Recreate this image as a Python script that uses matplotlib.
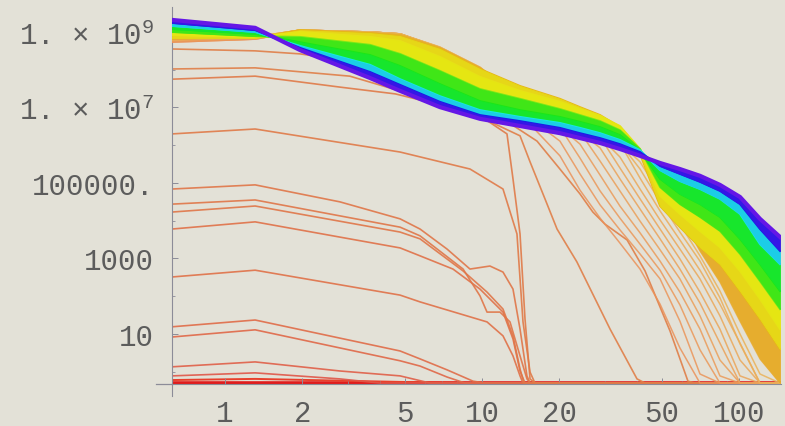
import colorsys
import numpy as np
import matplotlib
matplotlib.use("Agg")
import matplotlib.pyplot as plt
from matplotlib.ticker import FixedLocator, NullFormatter

# ---------------- data (log10 of y values) ----------------
# x positions shared by the rainbow band and the orange fan curves
x_band = [0.622, 1.31, 1.96, 3.67, 4.80, 6.86, 9.82, 14.06, 20.1, 24.06,
          28.8, 34.4, 41.2, 49.3, 58.9, 70.5, 84.3, 100.9, 120.7, 144.4]

# rainbow band curves (log10 y)
logy_violet = [9.32, 9.11, 8.52, 7.78, 7.44, 7.01, 6.70, 6.51, 6.32, 6.19,
               6.06, 5.90, 5.72, 5.53, 5.37, 5.19, 4.95, 4.63, 4.05, 3.57]
logy_blue = [9.24, 9.05, 8.58, 7.94, 7.60, 7.15, 6.80, 6.64, 6.46, 6.32,
             6.19, 6.03, 5.82, 5.45, 5.24, 5.03, 4.79, 4.44, 3.78, 3.20]
logy_cyan = [9.16, 9.00, 8.63, 8.13, 7.75, 7.30, 6.93, 6.75, 6.59, 6.46,
             6.32, 6.14, 5.87, 5.34, 5.05, 4.84, 4.58, 4.18, 3.38, 2.85]
logy_green = [9.08, 8.95, 8.73, 8.39, 8.10, 7.62, 7.17, 6.93, 6.75, 6.62,
              6.48, 6.27, 5.85, 5.11, 4.71, 4.44, 4.10, 3.52, 2.85, 2.14]
logy_yelgreen = [9.00, 8.89, 8.87, 8.66, 8.42, 7.97, 7.49, 7.23, 6.96, 6.80,
                 6.64, 6.40, 5.90, 4.89, 4.44, 4.10, 3.73, 3.12, 2.40, 1.66]
logy_yellow = [8.92, 8.87, 9.00, 8.87, 8.76, 8.34, 7.81, 7.44, 7.15, 6.96,
               6.78, 6.51, 5.90, 4.66, 4.18, 3.73, 3.30, 2.67, 1.93, 1.13]
logy_amber = [8.84, 8.84, 9.05, 8.97, 8.89, 8.55, 8.02, 7.57, 7.23, 7.01,
              6.80, 6.48, 5.77, 4.39, 3.83, 3.30, 2.85, 2.14, 1.40, 0.60]

# orange fan curves (log10 y), from the earliest to the latest to drop
fan_logy = [
    [8.73, 8.81, 9.03, 8.97, 8.92, 8.55, 8.00, 6.83, 5.72, 4.81, 4.07, 3.41, 2.72, 1.79, 0.63, -0.30, -0.30, -0.30, -0.30, -0.30],
    [8.73, 8.81, 9.03, 8.97, 8.92, 8.55, 8.01, 6.91, 6.11, 5.24, 4.42, 3.76, 3.12, 2.46, 1.34, -0.06, -0.30, -0.30, -0.30, -0.30],
    [8.76, 8.81, 9.03, 9.00, 8.92, 8.56, 8.02, 6.96, 6.48, 5.66, 4.79, 4.07, 3.38, 2.69, 1.77, 0.58, -0.30, -0.30, -0.30, -0.30],
    [8.76, 8.84, 9.05, 9.00, 8.95, 8.56, 8.03, 7.01, 6.48, 6.03, 5.21, 4.39, 3.68, 2.93, 2.11, 1.13, -0.11, -0.30, -0.30, -0.30],
    [8.79, 8.84, 9.05, 9.00, 8.95, 8.57, 8.03, 7.07, 6.48, 6.35, 5.58, 4.79, 3.99, 3.23, 2.46, 1.48, 0.31, -0.30, -0.30, -0.30],
    [8.79, 8.84, 9.05, 9.00, 8.95, 8.57, 8.04, 7.12, 6.48, 6.35, 5.93, 5.11, 4.31, 3.52, 2.72, 1.82, 0.76, -0.30, -0.30, -0.30],
    [8.79, 8.84, 9.05, 9.00, 8.95, 8.58, 8.04, 7.17, 6.48, 6.35, 6.22, 5.40, 4.58, 3.78, 2.99, 2.11, 1.13, -0.11, -0.30, -0.30],
    [8.79, 8.84, 9.05, 9.00, 8.95, 8.58, 8.05, 7.20, 6.48, 6.35, 6.22, 5.69, 4.84, 4.02, 3.25, 2.46, 1.48, 0.31, -0.30, -0.30],
    [8.79, 8.87, 9.05, 9.00, 8.95, 8.59, 8.05, 7.23, 6.51, 6.38, 6.22, 6.06, 5.13, 4.26, 3.49, 2.69, 1.79, 0.76, -0.30, -0.30],
    [8.79, 8.87, 9.05, 9.00, 8.95, 8.59, 8.06, 7.23, 6.51, 6.38, 6.22, 6.06, 5.37, 4.50, 3.70, 2.93, 1.96, 0.74, -0.30, -0.30],
    [8.81, 8.87, 9.05, 9.00, 8.95, 8.60, 8.06, 7.23, 6.54, 6.40, 6.25, 6.06, 5.56, 4.71, 3.91, 3.07, 2.14, 1.00, -0.06, -0.30],
    [8.81, 8.87, 9.05, 9.00, 8.95, 8.60, 8.07, 7.25, 6.56, 6.43, 6.27, 6.09, 5.74, 4.92, 4.13, 3.20, 2.38, 1.34, 0.34, -0.30],
]

# single orange curves (x values and log10 y)
a1_x = [0.622, 1.31, 1.96, 3.67, 6.86, 11.75, 16.37, 20.1, 24.06, 27.0, 30.1, 36.7, 43.1, 53.9, 63.3, 67.4, 144.4]
a1_logy = [8.55, 8.50, 8.42, 8.15, 7.49, 6.75, 6.11, 5.37, 4.71, 4.23, 3.91, 3.49, 2.67, 1.08, -0.25, -0.30, -0.30]
a2_x = [0.622, 1.31, 3.06, 5.74, 9.82, 14.06, 15.38, 17.58, 19.59, 23.4, 31.5, 40.1, 43.1, 144.4]
a2_logy = [8.02, 8.05, 7.83, 7.28, 6.75, 6.25, 5.56, 4.58, 3.78, 2.91, 1.13, -0.19, -0.30, -0.30]
a3_x = [0.622, 1.31, 2.80, 4.60, 6.86, 9.82, 12.51, 13.2, 14.06, 14.7, 15.38, 16.07, 144.4]
a3_logy = [7.75, 7.83, 7.54, 7.36, 7.07, 6.78, 6.30, 5.11, 3.65, 1.40, -0.19, -0.30, -0.30]
a4_x = [0.622, 1.31, 4.80, 8.98, 12.07, 13.68, 14.44, 15.38, 16.07, 144.4]
a4_logy = [6.30, 6.43, 5.82, 5.37, 4.84, 3.65, 1.32, -0.01, -0.30, -0.30]

b1_x = [0.622, 1.31, 2.80, 4.80, 5.74, 7.31, 8.98, 10.74, 12.07, 13.2, 14.06, 14.96, 15.38, 144.4]
b1_logy = [4.84, 4.95, 4.50, 4.05, 3.78, 3.25, 2.72, 2.80, 2.64, 2.19, 1.13, -0.11, -0.30, -0.30]
b2_x = [0.622, 1.31, 4.80, 5.74, 8.44, 9.82, 10.46, 11.75, 12.85, 14.06, 14.96, 15.38, 144.4]
b2_logy = [4.44, 4.55, 3.83, 3.60, 2.72, 2.01, 1.58, 1.58, 1.32, 0.42, -0.19, -0.30, -0.30]
b3_x = [0.622, 1.31, 4.80, 5.74, 8.44, 10.46, 12.07, 13.2, 14.06, 14.57, 144.4]
b3_logy = [4.23, 4.39, 3.70, 3.52, 2.67, 2.11, 1.66, 0.95, 0.07, -0.30, -0.30]
b4_x = [0.622, 1.31, 4.80, 5.74, 7.71, 9.82, 12.07, 13.2, 14.06, 14.7, 144.4]
b4_logy = [3.78, 3.97, 3.28, 3.07, 2.72, 2.19, 1.58, 0.87, 0.02, -0.30, -0.30]
b5_x = [0.622, 1.31, 4.80, 5.74, 10.46, 12.07, 13.2, 14.06, 14.44, 144.4]
b5_logy = [2.51, 2.69, 2.03, 1.85, 1.32, 0.95, 0.42, -0.11, -0.30, -0.30]
b6_x = [0.622, 1.31, 4.80, 5.74, 7.31, 9.23, 10.27, 144.4]
b6_logy = [1.19, 1.37, 0.55, 0.34, 0.05, -0.25, -0.30, -0.30]
b7_x = [0.622, 1.31, 4.80, 5.74, 7.31, 8.59, 144.4]
b7_logy = [0.92, 1.11, 0.29, 0.15, -0.14, -0.30, -0.30]
b8_x = [0.622, 1.31, 2.80, 4.80, 6.28, 144.4]
b8_logy = [0.13, 0.26, 0.02, -0.11, -0.30, -0.30]
b9_x = [0.622, 1.31, 2.80, 4.01, 144.4]
b9_logy = [-0.11, -0.03, -0.19, -0.30, -0.30]

red_x = [0.622, 1.31, 4.80, 9.82, 144.4]
red1_logy = [-0.22, -0.19, -0.27, -0.30, -0.30]
red2_logy = [-0.30, -0.30, -0.30, -0.30, -0.30]

y_tick_logs = [1, 3, 5, 7, 9]
y_tick_labels = ["10", "1000", "100000.", r"1. × $10^{7}$", r"1. × $10^{9}$"]
x_ticks = [1, 2, 5, 10, 20, 50, 100]
x_tick_labels = ["1", "2", "5", "10", "20", "50", "100"]

# ---------------- style ----------------
bg = "#e3e1d7"
plt.rcParams["font.family"] = ["Liberation Mono", "DejaVu Sans Mono"]
plt.rcParams["mathtext.fontset"] = "custom"
plt.rcParams["mathtext.rm"] = "Liberation Mono"
plt.rcParams["mathtext.it"] = "Liberation Mono"


def hue(h, s=0.9, v=0.9):
    return colorsys.hsv_to_rgb(h, s, v)


def ypow(vals):
    return 10.0 ** np.asarray(vals, dtype=float)


fig = plt.figure(figsize=(7.85, 4.27), dpi=100, facecolor=bg)
ax = fig.add_axes([172 / 785, 42 / 427, 609 / 785, 377 / 427])
ax.set_facecolor(bg)
ax.set_xscale("log")
ax.set_yscale("log")
ax.set_xlim(0.622, 145.7)
ymin = 10 ** -0.325
ax.set_ylim(ymin, 10 ** 9.662)

# red curves lying on the floor
ax.plot(red_x, ypow(red2_logy), color="#e01c1c", lw=2.6, zorder=1.0)
ax.plot(red_x, ypow(red1_logy), color="#e8402c", lw=1.4, zorder=1.1)

# single orange curves
single = [(b9_x, b9_logy, 0.015), (b8_x, b8_logy, 0.025), (b7_x, b7_logy, 0.035),
          (b6_x, b6_logy, 0.04), (b5_x, b5_logy, 0.045), (b4_x, b4_logy, 0.045),
          (b3_x, b3_logy, 0.05), (b2_x, b2_logy, 0.05), (b1_x, b1_logy, 0.05),
          (a4_x, a4_logy, 0.055), (a3_x, a3_logy, 0.055), (a2_x, a2_logy, 0.06),
          (a1_x, a1_logy, 0.06)]
for i, (xs, ls, h) in enumerate(single):
    ax.plot(xs, ypow(ls), color=hue(h, 0.68, 0.88), lw=1.2, alpha=0.9,
            zorder=2 + i * 0.01, solid_joinstyle="round")

# orange fan
n_fan = len(fan_logy)
for i, ls in enumerate(fan_logy):
    h = 0.065 + 0.04 * i / (n_fan - 1)
    ax.plot(x_band, ypow(ls), color=hue(h, 0.62, 0.92), lw=1.1, alpha=0.85,
            zorder=3 + i * 0.01, solid_joinstyle="round")

# rainbow band: fills between neighbouring curves, then the curves themselves
band = [(fan_logy[-1], 0.10), (logy_amber, 0.13), (logy_yellow, 0.165),
        (logy_yelgreen, 0.25), (logy_green, 0.33), (logy_cyan, 0.50),
        (logy_blue, 0.66), (logy_violet, 0.73)]
fill_hues = [0.115, 0.155, 0.167, 0.30, 0.35, 0.52, 0.69]
fill_sats = [0.8, 0.9, 0.92, 0.9, 0.9, 0.88, 0.9]
for i in range(1, len(band)):
    lo, _ = band[i - 1]
    hi, h = band[i]
    fc = hue(fill_hues[i - 1], fill_sats[i - 1], 0.9)
    ax.fill_between(x_band, ypow(lo), ypow(hi), color=fc, lw=0.6,
                    zorder=4 + i * 0.1)
    lw = 3.0 if i == len(band) - 1 else 1.4
    ax.plot(x_band, ypow(hi), color=hue(h), lw=lw, zorder=4.05 + i * 0.1,
            solid_joinstyle="round")

# axes styling
axis_col = "#8c8c98"
for side in ("top", "right"):
    ax.spines[side].set_visible(False)
for side in ("left", "bottom"):
    ax.spines[side].set_color(axis_col)
    ax.spines[side].set_linewidth(0.8)
# short overhang of both axes beyond the origin corner
ax.plot([0.54, 0.622], [ymin, ymin], color=axis_col, lw=0.9, clip_on=False, zorder=0.5)
ax.plot([0.622, 0.622], [ymin, 10 ** -0.64], color=axis_col, lw=0.8, clip_on=False, zorder=0.5)

ax.yaxis.set_major_locator(FixedLocator([10.0 ** k for k in y_tick_logs]))
ax.yaxis.set_minor_locator(FixedLocator([10.0 ** k for k in range(0, 10)]))
ax.set_yticklabels(y_tick_labels)
ax.yaxis.set_minor_formatter(NullFormatter())
ax.xaxis.set_major_locator(FixedLocator(x_ticks))
ax.xaxis.set_minor_locator(FixedLocator([3, 4, 6, 7, 8, 9, 30, 40, 60, 70, 80, 90]))
ax.set_xticklabels(x_tick_labels)
ax.xaxis.set_minor_formatter(NullFormatter())

ax.tick_params(axis="both", which="major", direction="in", length=4, width=0.7,
               color=axis_col, labelcolor="#5c5c5c", labelsize=21)
ax.tick_params(axis="both", which="minor", direction="in", length=2, width=0.6,
               color=axis_col)
ax.tick_params(axis="y", which="major", pad=13)
ax.tick_params(axis="x", which="major", pad=11)

fig.savefig("out.png", dpi=100, facecolor=bg)
